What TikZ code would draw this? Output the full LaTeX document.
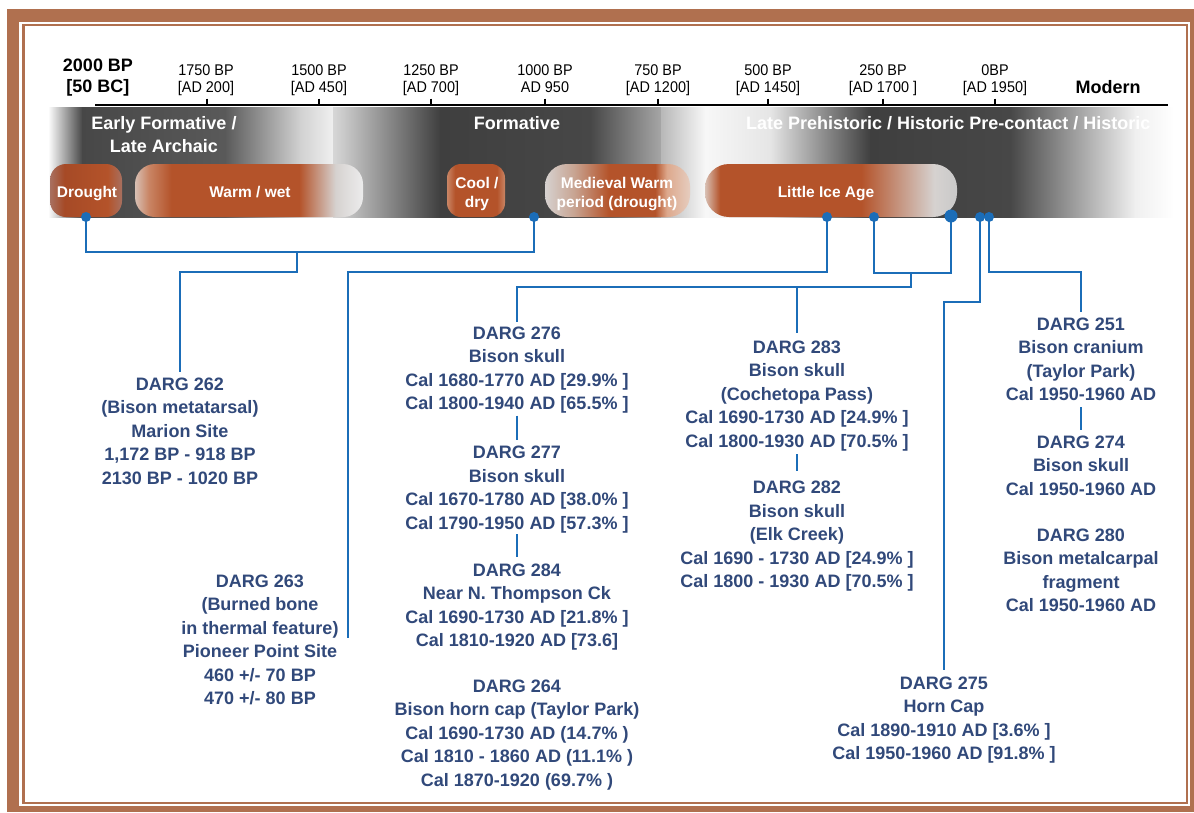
\documentclass[tikz,border=0pt]{standalone}
\usepackage{fontspec}
\setmainfont{Liberation Sans}
\newfontfamily\narrowfont{Liberation Sans}[FakeStretch=0.93]
\usetikzlibrary{calc}
\definecolor{framebrown}{HTML}{B0704F}
\definecolor{linkblue}{HTML}{1B6DB8}
\definecolor{textblue}{HTML}{31497A}
\definecolor{pb}{HTML}{B4532A}
\definecolor{pbDark}{HTML}{A64A26}
\definecolor{pbLight}{HTML}{C98565}
\definecolor{pbRim}{HTML}{D8C0B4}
\definecolor{pbHaze}{HTML}{DDA88C}
\definecolor{pbEnd}{HTML}{E6CDBF}
\definecolor{pgLight}{HTML}{D6D2D0}
\definecolor{pgPale}{HTML}{ECECEC}
\definecolor{pgEnd}{HTML}{C9C9C9}
\definecolor{pmed}{HTML}{C8A492}
\definecolor{drEdge}{HTML}{A87060}
\definecolor{bd}{HTML}{3F3F3F}
\definecolor{bdb}{HTML}{474747}
\pgfdeclarehorizontalshading{shDrought}{100bp}{color(0bp)=(drEdge); color(25bp)=(drEdge); color(35bp)=(pbDark); color(65bp)=(pb); color(75bp)=(drEdge); color(100bp)=(drEdge)}
\pgfdeclarehorizontalshading{shWarm}{100bp}{color(0bp)=(pbRim); color(25bp)=(pbRim); color(28bp)=(pbLight); color(33bp)=(pb); color(61bp)=(pb); color(69bp)=(pgLight); color(75bp)=(pgPale); color(100bp)=(pgPale)}
\pgfdeclarehorizontalshading{shCool}{100bp}{color(0bp)=(pbLight); color(25bp)=(pbLight); color(32bp)=(pb); color(68bp)=(pb); color(75bp)=(pbLight); color(100bp)=(pbLight)}
\pgfdeclarehorizontalshading{shMed}{100bp}{color(0bp)=(pgLight); color(25bp)=(pgLight); color(35bp)=(pmed); color(47bp)=(pb); color(63bp)=(pb); color(67bp)=(pbHaze); color(75bp)=(pbEnd); color(100bp)=(pbEnd)}
\pgfdeclarehorizontalshading{shIce}{100bp}{color(0bp)=(pbRim); color(25bp)=(pbRim); color(28bp)=(pb); color(56bp)=(pb); color(70.5bp)=(pgLight); color(75bp)=(pgEnd); color(100bp)=(pgEnd)}
\begin{document}
\begin{tikzpicture}[x=1pt,y=-1pt,
  entry/.style={font=\fontsize{18}{23.5}\selectfont\bfseries, text=textblue, align=center, inner sep=0pt, anchor=north},
  ticklab/.style={font=\narrowfont\fontsize{15.5}{17.5}\selectfont, align=center, inner sep=0pt, anchor=north},
  boldlab/.style={font=\fontsize{18}{21.3}\selectfont\bfseries, align=center, inner sep=0pt},
  era/.style={font=\fontsize{18}{22.5}\selectfont\bfseries, text=white, inner sep=0pt, anchor=base},
  pilltext/.style={font=\fontsize{15.5}{19}\selectfont\bfseries, text=white, inner sep=0pt, anchor=base},
  conn/.style={draw=linkblue, line width=2.8pt},
  dot/.style={circle, fill=linkblue, inner sep=0pt, minimum size=10pt},
  bigdot/.style={circle, fill=linkblue, inner sep=0pt, minimum size=13pt},
]
\useasboundingbox (0,0) rectangle (1194,812);
% frame
\fill[framebrown] (7,9) rectangle (1194,812);
\fill[white] (19,22) rectangle (1190,806);
\draw[framebrown, line width=2.6pt] (23.3,24.8) rectangle (1187,803);

% band, section 1
\shade[left color=white, right color=bdb] (48,107) rectangle (82.5,217);
\shade[left color=bdb, right color=bdb!90!white] (82,107) rectangle (225.5,217);
\shade[left color=bdb!90!white, right color=black!18] (225,107) rectangle (300.5,217);
\shade[left color=black!18, right color=black!6] (300,107) rectangle (333.5,217);
% section 2
\shade[left color=black!16, right color=black!22] (333,107) rectangle (345.5,217);
\shade[left color=black!22, right color=bd] (345,107) rectangle (440.5,217);
\shade[left color=bd, right color=bdb] (440,107) rectangle (590.5,217);
\shade[left color=bdb, right color=black!35] (590,107) rectangle (661,217);
% section 3
\shade[left color=black!28, right color=black!3] (661,107) rectangle (705.5,217);
\shade[left color=black!3, right color=black!10] (705,107) rectangle (770.5,217);
\shade[left color=black!10, right color=bd] (770,107) rectangle (870.5,217);
\shade[left color=bd, right color=bdb] (870,107) rectangle (1010.5,217);
\shade[left color=bdb, right color=black!6] (1010,107) rectangle (1135.5,217);
\shade[left color=black!6, right color=white] (1135,107) rectangle (1174,217);

% climate pills
\shade[shading=shDrought, rounded corners=16pt] (50,164) rectangle (122,217);
\shade[shading=shWarm, rounded corners=20pt] (135,164) rectangle (363,217);
\shade[shading=shCool, rounded corners=14pt] (447,164) rectangle (505,217);
\shade[shading=shMed, rounded corners=22pt] (545,164) rectangle (690,217);
\shade[shading=shIce, rounded corners=24pt] (705,164) rectangle (957,217);

\node[pilltext] (pDrought) at (87,197.5) {Drought};
\node[pilltext] (pWarm) at (250,197.5) {Warm / wet};
\node[pilltext] (pCool1) at (477,188.5) {Cool /};
\node[pilltext] (pCool2) at (477,207.5) {dry};
\node[pilltext] (pMed1) at (617,188.5) {Medieval Warm};
\node[pilltext] (pMed2) at (617,207.5) {period (drought)};
\node[pilltext] (pIce) at (826,197.5) {Little Ice Age};

% era labels
\node[era] (eEarly1) at (164,129.3) {Early Formative /};
\node[era] (eEarly2) at (164,152.3) {Late Archaic};
\node[era] (eForm) at (517,129.3) {Formative};
\node[era, anchor=base west] (eLate) at (746,129.3) {Late Prehistoric / Historic Pre-contact / Historic};

% axis
\draw[line width=2pt] (95,105) -- (1168,105);
\foreach \x in {207,319,431,545,658,768,883,995}
  \draw[line width=1.3pt] (\x,98.5) -- (\x,105);

\node[boldlab, anchor=north] (t2000) at (98,58.3) {2000 BP\\{[50 BC]}};
\node[ticklab] (t1750) at (206,64) {1750 BP\\{[AD 200]}};
\node[ticklab] (t1500) at (319,64) {1500 BP\\{[AD 450]}};
\node[ticklab] (t1250) at (431,64) {1250 BP\\{[AD 700]}};
\node[ticklab] (t1000) at (545,64) {1000 BP\\AD 950};
\node[ticklab] (t750) at (658,64) {750 BP\\{[AD 1200]}};
\node[ticklab] (t500) at (768,64) {500 BP\\{[AD 1450]}};
\node[ticklab] (t250) at (883,64) {250 BP\\{[AD 1700 ]}};
\node[ticklab] (t0) at (995,64) {0BP\\{[AD 1950]}};
\node[boldlab, anchor=base] (tMod) at (1108,93.4) {Modern};

% entries
\node[entry] (b262) at (180,377.5) {DARG 262\\(Bison metatarsal)\\Marion Site\\1,172 BP - 918 BP\\2130 BP - 1020 BP};
\node[entry] (b263) at (260,574.5) {DARG 263\\(Burned bone\\in thermal feature)\\Pioneer Point Site\\460 +/- 70 BP\\470 +/- 80 BP};
\node[entry] (b276) at (517,326.5) {DARG 276\\Bison skull\\Cal 1680-1770 AD [29.9\% ]\\Cal 1800-1940 AD [65.5\% ]};
\node[entry] (b277) at (517,446) {DARG 277\\Bison skull\\Cal 1670-1780 AD [38.0\% ]\\Cal 1790-1950 AD [57.3\% ]};
\node[entry] (b284) at (517,563.5) {DARG 284\\Near N. Thompson Ck\\Cal 1690-1730 AD [21.8\% ]\\Cal 1810-1920 AD [73.6]};
\node[entry] (b264) at (517,679.5) {DARG 264\\Bison horn cap (Taylor Park)\\Cal 1690-1730 AD (14.7\% )\\Cal 1810 - 1860 AD (11.1\% )\\Cal 1870-1920 (69.7\% )};
\node[entry] (b283) at (797,340.5) {DARG 283\\Bison skull\\(Cochetopa Pass)\\Cal 1690-1730 AD [24.9\% ]\\Cal 1800-1930 AD [70.5\% ]};
\node[entry] (b282) at (797,481) {DARG 282\\Bison skull\\(Elk Creek)\\Cal 1690 - 1730 AD [24.9\% ]\\Cal 1800 - 1930 AD [70.5\% ]};
\node[entry] (b251) at (1081,317.5) {DARG 251\\Bison cranium\\(Taylor Park)\\Cal 1950-1960 AD};
\node[entry] (b274) at (1081,435.5) {DARG 274\\Bison skull\\Cal 1950-1960 AD};
\node[entry] (b280) at (1081,528.5) {DARG 280\\Bison metalcarpal\\fragment\\Cal 1950-1960 AD};
\node[entry] (b275) at (944,676.5) {DARG 275\\Horn Cap\\Cal 1890-1910 AD [3.6\% ]\\Cal 1950-1960 AD [91.8\% ]};

% dots on the band
\node[dot] (d1) at (86,217) {};
\node[dot] (d2) at (534,217) {};
\node[dot] (d3) at (827,217) {};
\node[dot] (d4) at (874,217) {};
\node[bigdot] (d5) at (951,216) {};
\node[dot] (d6) at (980,217) {};
\node[dot] (d7) at (989,217) {};

% junctions and levels
\coordinate (j1) at (297,252);
\coordinate (j2) at (911,273);
\coordinate (lvB) at (0,272);
\coordinate (lvC) at (0,287);
\coordinate (lvD) at (0,302);
\coordinate (e263) at (348,638);

% connectors
\draw[conn] (d1.center) |- (j1) -| (d2.center);
\draw[conn, shorten >=6pt] (j1) |- (b262.north |- lvB) -- (b262.north);
\draw[conn] (d3.center) |- (e263 |- lvB) -- (e263);
\draw[conn] (d4.center) |- (j2) -| (d5.center);
\draw[conn, shorten >=5pt] (j2) |- (b276.north |- lvC) -- (b276.north);
\draw[conn, shorten >=8pt] (b283.north |- lvC) -- (b283.north);
\draw[conn, shorten >=7pt] (d6.center) |- (b275.north |- lvD) -- (b275.north);
\draw[conn, shorten >=6pt] (d7.center) |- (b251.north |- lvB) -- (b251.north);

\draw[conn, shorten <=2pt, shorten >=6pt] (b276.south) -- (b277.north);
\draw[conn, shorten <=1pt, shorten >=7pt] (b277.south) -- (b284.north);
\draw[conn, shorten <=3pt, shorten >=10pt] (b283.south) -- (b282.north);
\draw[conn, shorten <=6pt, shorten >=6pt] (b251.south) -- (b274.north);
\end{tikzpicture}
\end{document}
